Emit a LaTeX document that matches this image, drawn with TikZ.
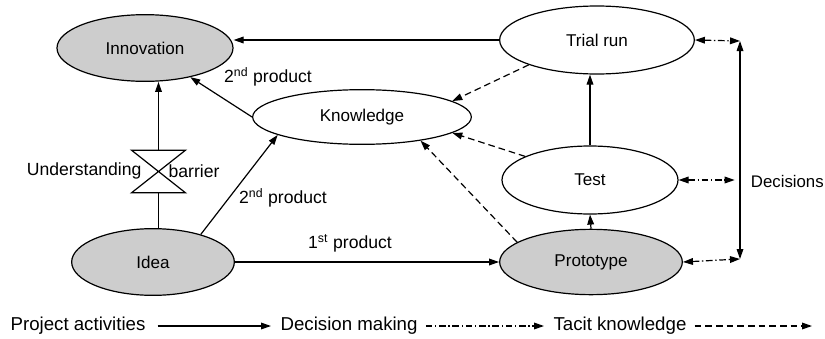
\documentclass[tikz,border=0pt]{standalone}
\usepackage{fontspec}
\setmainfont{Liberation Sans}
\usetikzlibrary{shapes.geometric,arrows.meta}

\tikzset{
  stage/.style={draw, ellipse, line width=0.9, inner sep=0pt, font=\fontsize{12.8}{15}\selectfont},
  mainstage/.style={stage, fill={rgb, 255:red, 205; green, 205; blue, 205 }},
  lbl/.style={font=\fontsize{13.2}{15}\selectfont, inner sep=1pt},
  leg/.style={font=\fontsize{14}{16}\selectfont, inner sep=1pt},
  activity/.style={line width=0.9, -{Triangle[length=7.5pt,width=5pt]}},
  decision/.style={line width=0.9, dash pattern=on 5pt off 2pt on 1pt off 2pt, -{Triangle[length=7.5pt,width=5pt]}},
  decisionboth/.style={decision, {Triangle[length=7.5pt,width=5pt]}-{Triangle[length=7.5pt,width=5pt]}},
  tacit/.style={line width=0.9, dash pattern=on 5pt off 3pt, -{Triangle[length=7.5pt,width=5pt]}},
}

\begin{document}
\begin{tikzpicture}[x=0.75pt,y=0.75pt,yscale=-1,xscale=1]
\path[use as bounding box] (0,0) rectangle (825,339);
%Shape: Ellipse -- the six stages
\node [mainstage, minimum width=132pt, minimum height=50pt] (innovation) at (145,48) {Innovation};
\node [stage, minimum width=164pt, minimum height=41pt] (knowledge) at (362,117) {Knowledge};
\node [stage, minimum width=146pt, minimum height=51pt] (trial) at (597,40) {Trial run};
\node [stage, minimum width=132pt, minimum height=51pt] (test) at (590,180) {Test};
\node [mainstage, minimum width=137pt, minimum height=49pt] (prototype) at (591,262) {Prototype};
\node [mainstage, minimum width=122pt, minimum height=50pt] (idea) at (153,262) {Idea};

%Shape: Hourglass -- understanding barrier
\node [minimum width=40pt, minimum height=31.5pt, inner sep=0pt] (barrier) at (158.5,171.5) {};
\draw [line width=0.9, fill=white] (barrier.north west) -- (barrier.north east) -- (barrier.south west) -- (barrier.south east) -- cycle ;
\node [lbl, anchor=east] (understanding) at (143,171) {Understanding};
\node [lbl, anchor=west] (barriertext) at (167,171) {barrier};

%Straight Lines -- project activities
\draw [line width=0.9] (barrier.south) -- (barrier.south |- idea.north) ;
\draw [activity] (barrier.north) -- (barrier.north |- innovation.south) ;
\draw [activity] (knowledge.west) -- (innovation) ;
\draw [activity] (idea.30) -- (knowledge.192) ;
\draw [activity] (idea.east) -- (prototype.west) ;
\draw [activity] (trial.west) -- (trial.west -| innovation.east) ;
\draw [activity] (test.north) -- (test.north |- trial.south) ;
\draw [activity] (prototype.north) -- (test.south) ;
\node [lbl] (second1) at (268,77) {2\textsuperscript{nd} product};
\node [lbl] (second2) at (283,198) {2\textsuperscript{nd} product};
\node [lbl] (first) at (350,243) {1\textsuperscript{st} product};

%Straight Lines -- tacit knowledge
\draw [tacit] (trial.200) -- (knowledge.10) ;
\draw [tacit] (test.160) -- (knowledge.-10) ;
\draw [tacit] (prototype.165) -- (knowledge.-22) ;

%Straight Lines -- decisions
\coordinate (dtop) at (740,41) ;
\coordinate (dbot) at (740,259) ;
\draw [line width=0.9, {Triangle[length=7.5pt,width=5pt]}-{Triangle[length=7.5pt,width=5pt]}] (dtop) -- (dbot) ;
\draw [decisionboth] (trial.east) -- (dtop) ;
\draw [decisionboth] (test.east) -- ([xshift=-4pt]test.east -| dtop) ;
\draw [decisionboth] (prototype.east) -- (dbot) ;
\node [lbl, font=\fontsize{12.6}{15}\selectfont, inner sep=0pt, anchor=east] (decisions) at (824,181) {Decisions};

%Legend
\node [leg, anchor=west] (legact) at (9,326) {Project activities};
\node [leg, anchor=west] (legdec) at (279,326) {Decision making};
\node [leg, anchor=west] (legtac) at (552,326) {Tacit knowledge};
\draw [activity] ([xshift=8pt]legact.east) -- ([xshift=-6pt]legdec.west) ;
\draw [decision] ([xshift=5pt]legdec.east) -- ([xshift=-6pt]legtac.west) ;
\draw [tacit] ([xshift=5pt]legtac.east) -- (812,326) ;
\end{tikzpicture}
\end{document}
